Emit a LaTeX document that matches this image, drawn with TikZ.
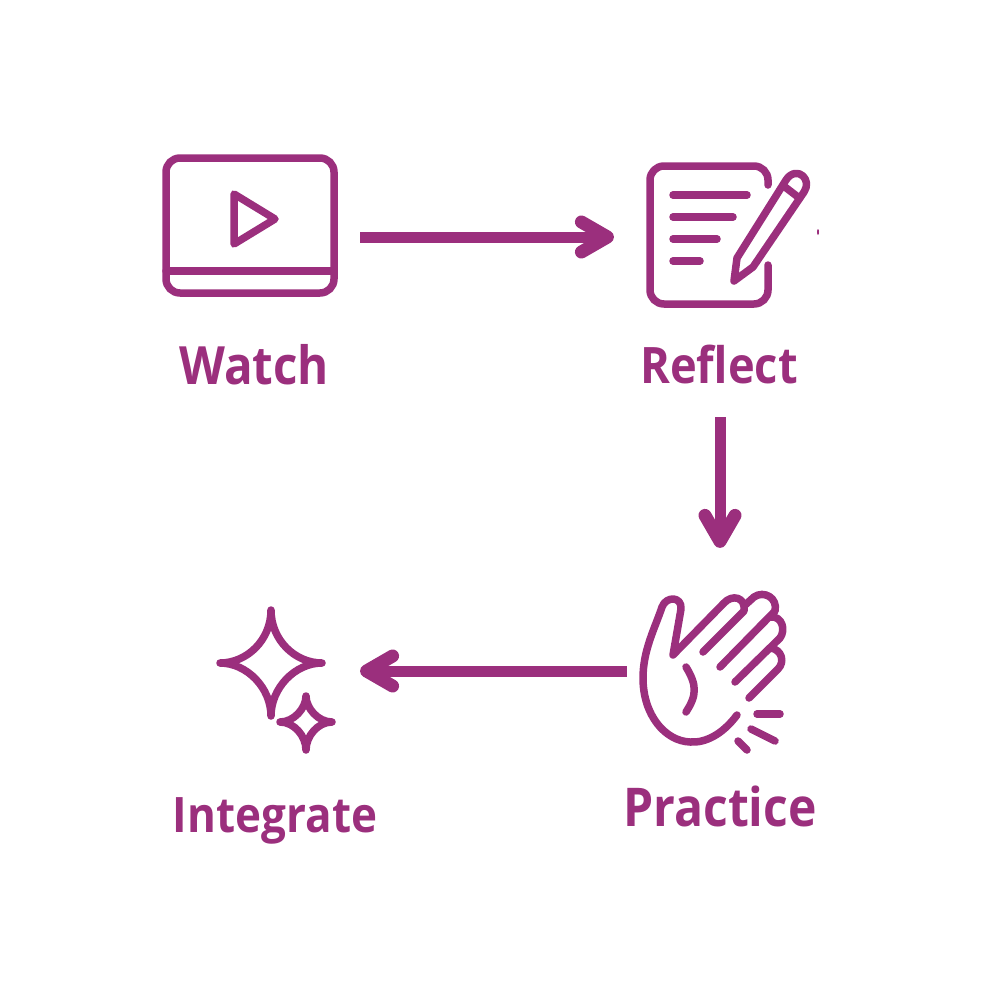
\documentclass[tikz,border=0pt]{standalone}
\usepackage{fontspec}
\setmainfont[FakeStretch=0.9]{Open Sans}
\usetikzlibrary{arrows.meta}
\definecolor{plum}{HTML}{9B2F7D}
\tikzset{
    iconline/.style={draw=plum, line width=0.075cm, line cap=round, line join=round},
    flowarrow/.style={draw=plum, line width=0.11cm, -{Straight Barb[round, length=0.26cm, width=0.3cm, line width=0.13cm]}},
    iconslot/.style={inner sep=0pt, outer sep=0pt},
    steplabel/.style={text=plum, font=\fontsize{#1}{18}\selectfont\bfseries}
}

\begin{document}
\begin{tikzpicture}[x=0.01cm, y=-0.01cm]
        \useasboundingbox (0,0) rectangle (1000,1000);
        % Slots that hold the icons
        \node[iconslot, minimum width=2.2cm, minimum height=1.42cm] (watchicon) at (250,237) {};
        \node[iconslot, minimum width=2.12cm, minimum height=3.6cm] (reflecticon) at (720,237) {};
        \node[iconslot, minimum width=1.86cm, minimum height=2.46cm] (practiceicon) at (720,671) {};
        \node[iconslot, minimum width=1.8cm, minimum height=1.5cm] (integrateicon) at (270,671) {};
        % Labels
        \node[steplabel=15] (watchlabel) at (254,365) {Watch};
        \node[steplabel=14.3] (reflectlabel) at (719,365) {Reflect};
        \node[steplabel=15.2] (practicelabel) at (720,806) {Practice};
        \node[steplabel=13.9] (integratelabel) at (275,821) {Integrate};
        % Arrows
        \draw[flowarrow] (watchicon.east) -- (reflecticon.west);
        \draw[flowarrow] (reflecticon.south) -- (practiceicon.north);
        \draw[flowarrow] (practiceicon.west) -- (integrateicon.east);
        % Video player
        \draw[iconline] (166,172) arc (180:270:14) -- (320,158) arc (270:360:14) -- (334,279) arc (0:90:14) -- (180,293) arc (90:180:14) -- cycle;
        \draw[iconline] (166,271) -- (334,271);
        \draw[iconline] (234,194) -- (275,219) -- (234,244) -- cycle;
        % Notepad
        \draw[iconline] (768,185) -- (768,180) arc (0:-90:14) -- (664,166) arc (270:180:14) -- (650,290) arc (180:90:14) -- (754,304) arc (90:0:14) -- (768,265);
        \foreach \y/\xend in {195/747, 217/733, 239/717, 261/700}
            \draw[iconline] (673,\y) -- (\xend,\y);
        % Pencil
        \draw[iconline] (734,281) -- (737,258) -- (786,180) .. controls (791,172) and (799,172) .. (803,176) .. controls (807,180) and (808,186) .. (804,192) -- (753,267) -- cycle;
        \draw[iconline] (785,187) -- (798,197);
        \fill[plum] (818,232) ellipse (1 and 3);
        % Hand
        \draw[iconline] (737,715) .. controls (722,735) and (705,743) .. (690,742) .. controls (665,741) and (643,715) .. (643,678) .. controls (643,650) and (655,628) .. (662,607) .. controls (666,596) and (682,596) .. (681,609) -- (673,655) -- (724,603) .. controls (732,594) and (746,597) .. (744,611) -- (703,652);
        \draw[iconline] (744,606) -- (754,597) .. controls (764,590) and (778,598) .. (775,611) -- (720,667);
        \draw[iconline] (771,617) .. controls (782,616) and (786,630) .. (780,638) -- (735,682);
        \draw[iconline] (771,648) .. controls (782,650) and (785,662) .. (778,669) -- (749,698);
        \draw[iconline] (686,667) .. controls (697,685) and (697,695) .. (686,712);
        \draw[iconline] (757,714) -- (780,714);
        \draw[iconline] (751,729) -- (775,741);
        \draw[iconline] (738,741) -- (747,750);
        % Sparkles
        \draw[iconline] (271,610) .. controls (271,640) and (295,663) .. (322,663) .. controls (295,663) and (271,688) .. (271,716) .. controls (271,688) and (247,663) .. (220,663) .. controls (247,663) and (271,640) .. (271,610) -- cycle;
        \draw[iconline] (306,696) .. controls (306,708) and (318,722) .. (332,722) .. controls (318,722) and (306,736) .. (306,750) .. controls (306,736) and (294,722) .. (280,722) .. controls (294,722) and (306,708) .. (306,696) -- cycle;
    \end{tikzpicture}
\end{document}
